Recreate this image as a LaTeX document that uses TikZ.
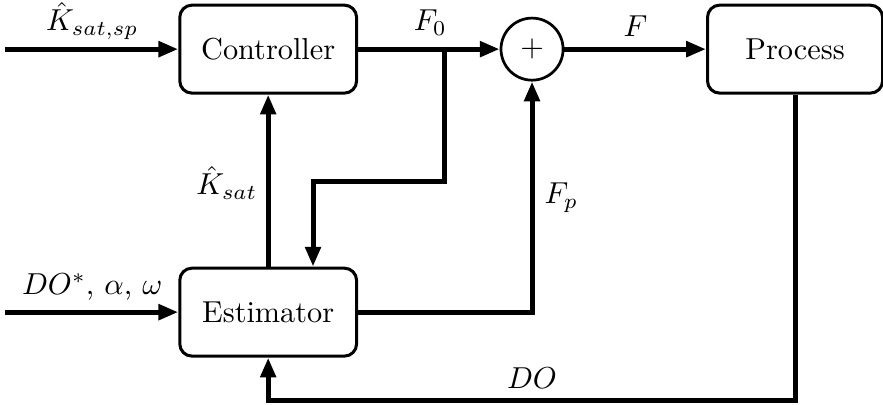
\documentclass[tikz,border=0pt]{standalone}
\usetikzlibrary{arrows.meta, positioning, calc}
\tikzset{
  every picture/.style={line width=1.65pt},
  block/.style={draw, line width=1pt, rounded corners=4pt, align=center, minimum width=2.05cm, minimum height=1.02cm},
  sumnode/.style={draw, circle, line width=0.9pt, minimum size=0.72cm, inner sep=0pt},
  arrow/.style={-{Triangle[length=2.3mm, width=1.75mm]}},
  sig/.style={inner sep=1pt},
}
\begin{document}
\begin{tikzpicture}
  \useasboundingbox (0,0) rectangle (10.24,-4.69);
  % blocks
  \node[block] (ctrl) at (3.11,-0.57) {Controller};
  \node[block] (est) at (3.11,-3.62) {Estimator};
  \node[sumnode] (sum) at (6.17,-0.57) {$+$};
  \node[block, minimum width=2.03cm] (proc) at (9.22,-0.57) {Process};
  % free ends and bends
  \coordinate (kin) at (0.06,-0.57);
  \coordinate (ein) at (0.06,-3.62);
  \coordinate (split) at (5.15,-0.57);
  \coordinate (turn) at (3.63,-2.10);
  \coordinate (back) at (proc.south |- 0,-4.64);
  % signals
  \draw[arrow] (kin) -- (ctrl.west);
  \draw[arrow] (ein) -- (est.west);
  \draw[arrow] (ctrl.east) -- (sum.west);
  \draw[arrow] (sum.east) -- (proc.west);
  \draw[arrow] (est.north) -- (ctrl.south);
  \draw[arrow] (split) |- (turn) -- (turn |- est.north);
  \draw[arrow] (est.east) -| (sum.south);
  \draw[arrow] (proc.south) -- (back) -| (est.south);
  % labels
  \node[sig] (lksp) at (1.07,-0.24) {$\hat{K}_{sat,sp}$};
  \node[sig] (lfo) at (4.99,-0.26) {$F_0$};
  \node[sig] (lf) at (7.37,-0.30) {$F$};
  \node[sig] (lks) at (2.63,-2.12) {$\hat{K}_{sat}$};
  \node[sig] (lfp) at (6.51,-2.29) {$F_p$};
  \node[sig] (lin) at (1.07,-3.33) {$DO^{*}$, $\alpha$, $\omega$};
  \node[sig] (ldo) at (6.17,-4.38) {$DO$};
\end{tikzpicture}
\end{document}
